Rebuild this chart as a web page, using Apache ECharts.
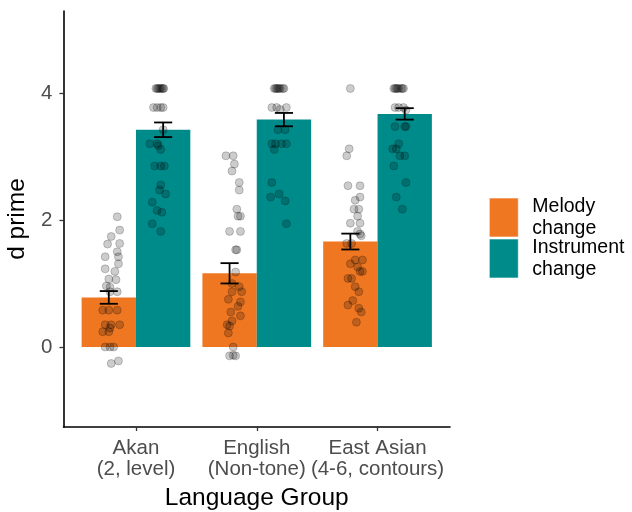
<!DOCTYPE html>
<html>
<head>
<meta charset="utf-8">
<script src="https://cdn.jsdelivr.net/npm/echarts@6/dist/echarts.min.js"></script>
<style>
  html, body { margin: 0; padding: 0; background: #fff; }
  #chart { width: 632px; height: 512px; }
</style>
</head>
<body>
<div id="chart"></div>
<script>
// ---- data ----
const groups = ['Akan\n(2, level)', 'English\n(Non-tone)', 'East Asian\n(4-6, contours)'];
const conditions = ['Melody\nchange', 'Instrument\nchange'];
const yTicks = [0, 2, 4];

const melodyMean = [0.78, 1.16, 1.66];
const melodySE = [0.10, 0.16, 0.125];
const instrumentMean = [3.42, 3.58, 3.67];
const instrumentSE = [0.115, 0.105, 0.09];

// participant d' scores, each with its horizontal jitter (in group units)
const akanMelody = [2.05, 1.84, 1.74, 1.62, 1.63, 1.50, 1.42, 1.42, 1.31, 1.23, 1.19, 1.07, 1.06, 0.96, 0.94, 0.87, 0.87, 0.58, 0.58, 0.58, 0.35, 0.35, 0.30, 0.35, 0.24, 0.24, 0.00, 0.00, 0.00, -0.26, -0.22];
const akanMelodyJitter = [0.07, 0.09, 0.02, -0.01, 0.09, 0.07, -0.03, 0.08, 0.08, -0.03, 0.05, 0, 0.06, -0.02, 0.01, 0.07, 0.01, 0, 0.07, -0.05, -0.03, 0.02, 0.01, 0.09, -0.05, 0, -0.03, 0.01, 0.04, 0.02, 0.08];

const akanInstrument = [4.07, 4.07, 4.07, 4.07, 4.07, 4.07, 4.07, 4.07, 3.77, 3.77, 3.77, 3.77, 3.42, 3.20, 3.20, 3.17, 3.11, 2.85, 2.85, 2.85, 2.55, 2.47, 2.41, 2.28, 2.15, 2.12, 1.94, 1.82];
const akanInstrumentJitter = [-0.06, -0.05, -0.04, -0.03, -0.02, -0.01, 0, 0.005, -0.08, -0.05, -0.02, 0, 0, -0.11, -0.05, -0.04, -0.02, -0.07, -0.02, 0.01, -0.02, -0.03, 0.02, -0.09, -0.05, -0.01, -0.09, -0.02];

const englishMelody = [3.01, 3.01, 2.88, 2.77, 2.59, 2.47, 2.17, 2.06, 2.06, 1.82, 1.82, 1.53, 1.53, 1.18, 1.00, 0.95, 0.87, 0.87, 0.75, 0.71, 0.64, 0.49, 0.55, 0.41, 0.35, 0.33, 0.22, 0.00, -0.14, -0.13, -0.14];
const englishMelodyJitter = [-0.03, 0.03, 0.04, 0.02, 0.08, 0.08, 0.06, 0.07, 0.09, 0, 0.09, 0.05, 0.06, 0.05, 0.02, 0.08, 0.10, 0.02, -0.01, 0.09, 0.07, 0.09, 0.01, 0.02, -0.02, 0, -0.01, 0.03, 0, 0.03, 0.05];

const englishInstrument = [4.07, 4.07, 4.07, 4.07, 4.07, 4.07, 4.07, 4.07, 3.77, 3.77, 3.77, 3.74, 3.42, 3.42, 3.20, 3.20, 3.20, 3.20, 3.11, 2.59, 2.36, 2.41, 2.30, 1.94];
const englishInstrumentJitter = [-0.08, -0.07, -0.06, -0.05, -0.04, -0.03, -0.01, 0, -0.10, -0.06, 0.02, -0.03, -0.05, 0.01, -0.10, -0.07, -0.02, 0.02, -0.08, -0.10, -0.11, -0.04, 0.01, 0.02];

const eastAsianMelody = [4.07, 3.12, 3.01, 2.54, 2.54, 2.36, 2.31, 2.17, 2.17, 2.06, 1.95, 1.95, 1.82, 1.78, 1.75, 1.63, 1.63, 1.37, 1.37, 1.31, 1.26, 1.19, 1.19, 1.08, 1.08, 0.95, 0.87, 0.73, 0.66, 0.61, 0.55, 0.39];
const eastAsianMelodyJitter = [0, -0.01, -0.03, -0.02, 0.08, 0.08, 0.04, 0.03, 0.07, 0.06, 0, 0.08, 0.06, 0.08, 0.09, -0.03, 0.01, 0.04, 0.10, 0, 0.06, 0.08, 0.10, -0.02, 0.01, 0.04, 0.07, 0.02, -0.02, 0.07, 0.09, 0.05];

const eastAsianInstrument = [4.07, 4.07, 4.07, 4.07, 4.07, 4.07, 4.07, 4.07, 3.77, 3.77, 3.77, 3.73, 3.47, 3.47, 3.47, 3.20, 3.12, 3.12, 3.01, 3.01, 2.85, 2.59, 2.36, 2.17];
const eastAsianInstrumentJitter = [-0.09, -0.08, -0.07, -0.06, -0.05, -0.03, -0.02, -0.01, -0.08, -0.05, -0.01, 0.01, -0.08, 0, 0.01, -0.05, -0.10, -0.07, -0.04, 0, -0.09, 0.01, -0.07, -0.02];

// ---- styling ----
const ORANGE = '#EF7722';
const TEAL = '#008B8B';
const DODGE = 0.225;      // half of the 0.45-wide bar, centre offset from the group centre
const CAP = 0.075;        // half width of the error-bar caps
const POINT_FILL = 'rgba(0,0,0,0.2)';
const FONT = '"Liberation Sans", Arial, Helvetica, sans-serif';

const melodyPoints = [
  [akanMelody, akanMelodyJitter],
  [englishMelody, englishMelodyJitter],
  [eastAsianMelody, eastAsianMelodyJitter]
];
const instrumentPoints = [
  [akanInstrument, akanInstrumentJitter],
  [englishInstrument, englishInstrumentJitter],
  [eastAsianInstrument, eastAsianInstrumentJitter]
];

function pointData(sets, offset) {
  const out = [];
  sets.forEach(([vals, jit], g) => {
    vals.forEach((v, k) => out.push([g + 1 + offset + jit[k], v]));
  });
  return out;
}

function barSeries(name, means, offset, color) {
  return {
    type: 'custom',
    name: name,
    itemStyle: { color: color },
    data: means.map((m, i) => [i + 1 + offset, m]),
    encode: { x: 0, y: 1 },
    z: 1,
    renderItem(params, api) {
      const x = api.value(0), y = api.value(1);
      const a = api.coord([x - DODGE, 0]);
      const b = api.coord([x + DODGE, y]);
      return {
        type: 'rect',
        shape: { x: a[0], y: Math.min(a[1], b[1]), width: b[0] - a[0], height: Math.abs(a[1] - b[1]) },
        style: { fill: color }
      };
    }
  };
}

function errorSeries(means, ses, offset) {
  return {
    type: 'custom',
    data: means.map((m, i) => [i + 1 + offset, m - ses[i], m + ses[i]]),
    encode: { x: 0, y: [1, 2] },
    z: 5,
    silent: true,
    renderItem(params, api) {
      const x = api.value(0);
      const lo = api.coord([x, api.value(1)]);
      const hi = api.coord([x, api.value(2)]);
      const l = api.coord([x - CAP, 0])[0];
      const r = api.coord([x + CAP, 0])[0];
      const st = { stroke: '#000', lineWidth: 1.8 };
      return {
        type: 'group',
        children: [
          { type: 'line', shape: { x1: lo[0], y1: lo[1], x2: hi[0], y2: hi[1] }, style: st },
          { type: 'line', shape: { x1: l, y1: lo[1], x2: r, y2: lo[1] }, style: st },
          { type: 'line', shape: { x1: l, y1: hi[1], x2: r, y2: hi[1] }, style: st }
        ]
      };
    }
  };
}

function pointSeries(name, sets, offset) {
  return {
    type: 'scatter',
    name: name,
    data: pointData(sets, offset),
    symbolSize: 8,
    z: 3,
    silent: true,
    itemStyle: { color: POINT_FILL, borderColor: 'rgba(0,0,0,0.2)', borderWidth: 1, opacity: 1 }
  };
}

const chart = echarts.init(document.getElementById('chart'), null, { renderer: 'canvas' });

chart.setOption({
  animation: false,
  backgroundColor: '#fff',
  textStyle: { fontFamily: FONT },
  grid: { left: 63.5, top: 11, width: 386.5, height: 416, containLabel: false, outerBoundsMode: 'none' },
  xAxis: {
    type: 'value',
    min: 0.4,
    max: 3.6,
    name: 'Language Group',
    nameLocation: 'middle',
    nameGap: 53,
    nameTextStyle: { fontSize: 24.5, color: '#000', fontFamily: FONT },
    splitLine: { show: false },
    axisLine: { show: true, onZero: false, lineStyle: { color: '#000', width: 1.6 } },
    axisTick: { show: true, customValues: [1, 2, 3], length: 4, lineStyle: { color: '#333', width: 1.3 } },
    axisLabel: {
      customValues: [1, 2, 3],
      formatter: v => groups[Math.round(v) - 1],
      fontSize: 20.5, color: '#4D4D4D', lineHeight: 21.7, margin: 10, fontFamily: FONT
    }
  },
  yAxis: {
    type: 'value',
    min: -1.26,
    max: 5.29,
    name: 'd prime',
    nameLocation: 'middle',
    nameGap: 29,
    nameTextStyle: { fontSize: 24.5, color: '#000', fontFamily: FONT },
    splitLine: { show: false },
    axisLine: { show: true, onZero: false, lineStyle: { color: '#000', width: 1.6 } },
    axisTick: { show: true, customValues: yTicks, length: 4, lineStyle: { color: '#333', width: 1.3 } },
    axisLabel: { customValues: yTicks, fontSize: 20.5, color: '#4D4D4D', margin: 11, fontFamily: FONT }
  },
  legend: {
    orient: 'vertical',
    left: 489,
    top: 195.5,
    padding: 0,
    itemWidth: 29,
    itemHeight: 39,
    itemGap: -3,
    icon: 'rect',
    selectedMode: false,
    data: conditions,
    itemStyle: { borderColor: '#fff', borderWidth: 0.6 },
    textStyle: { fontSize: 19.5, lineHeight: 22, color: '#000', fontFamily: FONT, padding: [0, 0, 0, 9] }
  },
  graphic: [
    { type: 'circle', shape: { cx: 503.5, cy: 217.5, r: 4 }, style: { fill: POINT_FILL, stroke: 'rgba(0,0,0,0.2)', lineWidth: 1 } },
    { type: 'circle', shape: { cx: 503.5, cy: 258.5, r: 4 }, style: { fill: POINT_FILL, stroke: 'rgba(0,0,0,0.2)', lineWidth: 1 } }
  ],
  series: [
    barSeries(conditions[0], melodyMean, -DODGE, ORANGE),
    barSeries(conditions[1], instrumentMean, DODGE, TEAL),
    pointSeries('melody scores', melodyPoints, -DODGE),
    pointSeries('instrument scores', instrumentPoints, DODGE),
    errorSeries(melodyMean, melodySE, -DODGE),
    errorSeries(instrumentMean, instrumentSE, DODGE)
  ]
});
</script>
</body>
</html>
